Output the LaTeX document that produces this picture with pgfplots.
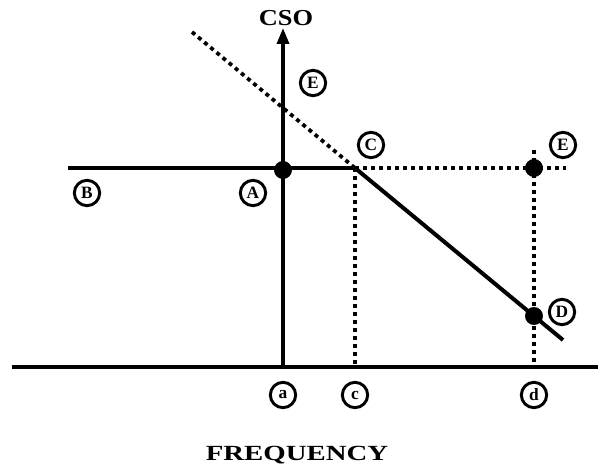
\documentclass[border=0pt]{standalone}
\usepackage{pgfplots}
\pgfplotsset{compat=1.18}
\usepackage{fontspec}
\setmainfont{Liberation Serif}
\usetikzlibrary{arrows.meta}
\begin{document}
\begin{tikzpicture}[
  lab/.style={circle, draw=black, line width=2.2pt, minimum size=19pt, inner sep=0pt, font=\bfseries\fontsize{13}{14}\selectfont},
  big/.style={font=\bfseries\fontsize{18}{20}\selectfont}]
\begin{axis}[width=450pt, height=351pt, scale only axis, xmin=0, xmax=600, ymin=0, ymax=468,
  hide axis, clip=false]
% invisible frame
\addplot[draw=none] coordinates {(0,0) (600,468)};
% baseline
\addplot[line width=2.6pt] coordinates {(12,101) (598,101)};
% vertical CSO axis
\addplot[line width=2.6pt, -{Triangle[length=12pt,width=9pt]}] coordinates {(283,103) (283,440)};
% horizontal solid B-A-C
\addplot[line width=3pt] coordinates {(68,300) (355,300)};
% declining solid C-D
\addplot[line width=3pt] coordinates {(355,300) (563,128)};
% dotted extension
\addplot[line width=2.8pt, dash pattern=on 3pt off 3pt] coordinates {(192,436) (355,300)};
% dotted horizontal C-E
\addplot[line width=2.6pt, dash pattern=on 3pt off 3pt] coordinates {(355,300) (566,300)};
% dotted verticals
\addplot[line width=2.4pt, dash pattern=on 3pt off 3pt] coordinates {(355,300) (355,101)};
\addplot[line width=2.4pt, dash pattern=on 3pt off 3pt] coordinates {(534,318) (534,103)};
% points
\addplot[only marks, mark=*, mark size=6.5pt, black] coordinates {(283,298) (534,300) (534,152)};
% labels
\node[big] at (axis cs:286,450) {\scalebox{1.1}[0.95]{CSO}};
\node[big] at (axis cs:297,13) {\scalebox{1.2}[0.9]{FREQUENCY}};
\node[lab] at (axis cs:313,385) {E};
\node[lab] at (axis cs:371,323) {C};
\node[lab] at (axis cs:563,323) {E};
\node[lab] at (axis cs:87,275) {B};
\node[lab] at (axis cs:253,275) {A};
\node[lab] at (axis cs:562,156) {D};
\node[lab] at (axis cs:283,73) {a};
\node[lab] at (axis cs:355,73) {c};
\node[lab] at (axis cs:534,73) {d};
\end{axis}
\end{tikzpicture}
\end{document}
